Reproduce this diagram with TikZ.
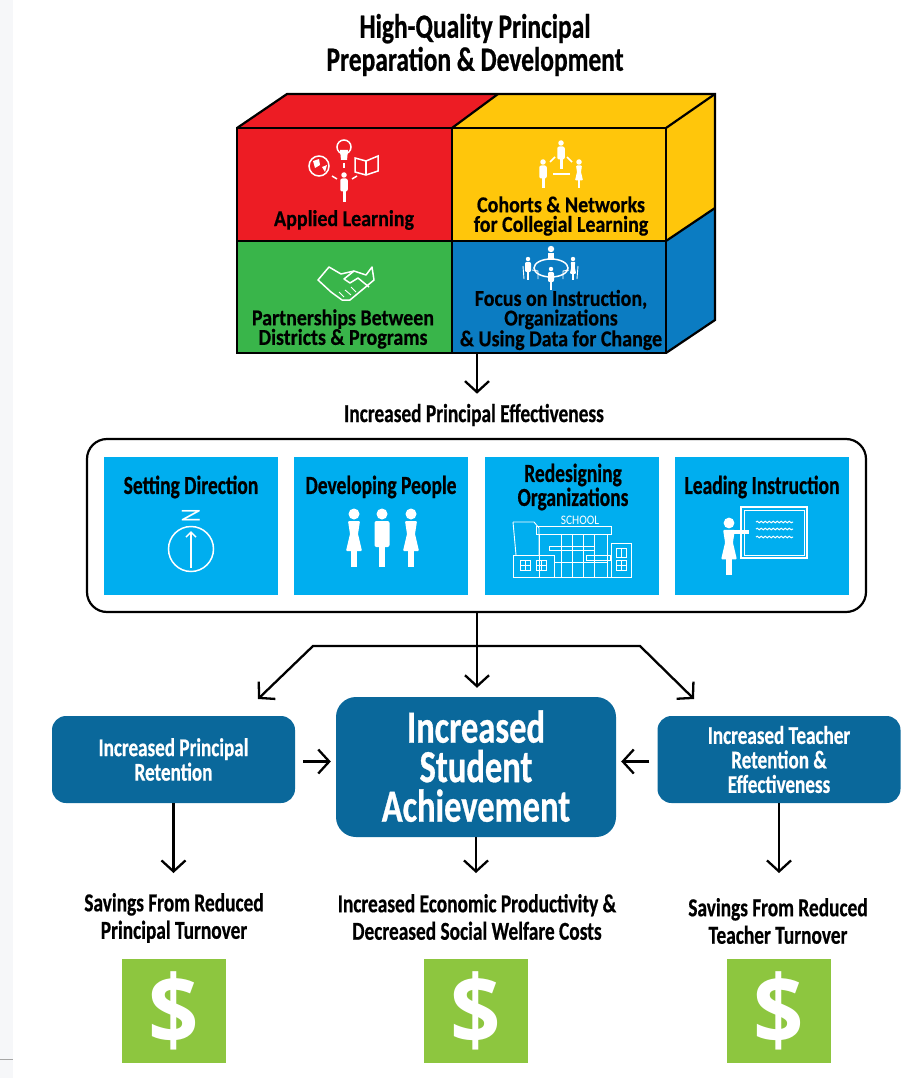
\documentclass[tikz,border=0pt]{standalone}
\usepackage{fontspec}
\usepackage{xcolor}
\usepackage{tikz}
\usetikzlibrary{arrows.meta,positioning,calc,decorations.pathmorphing}
\setmainfont[FakeStretch=0.88,BoldFeatures={FakeBold=0.5}]{Carlito}
\newfontfamily\narrowfont[FakeStretch=0.75,BoldFeatures={FakeBold=0.6}]{Carlito}
\newfontfamily\dollarfont[FakeStretch=0.92]{Open Sans}
\definecolor{cubered}{RGB}{237,28,36}
\definecolor{cubeyellow}{RGB}{255,198,11}
\definecolor{cubegreen}{RGB}{57,181,74}
\definecolor{cubeblue}{RGB}{11,124,194}
\definecolor{tileblue}{RGB}{0,174,239}
\definecolor{boxblue}{RGB}{10,104,155}
\definecolor{moneygreen}{RGB}{141,198,63}
\definecolor{edgegray}{RGB}{246,247,249}
\tikzset{
    flow/.style={line width=2.3pt, -{Straight Barb[length=11pt,width=24pt,line width=2.3pt]}},
    edge/.style={line width=2.2pt, black, line join=miter},
    cubelabel/.style={font=\bfseries\fontsize{22.7}{19.6}\selectfont, align=center, text=black, inner sep=0pt},
    headlabel/.style={font=\narrowfont\bfseries\fontsize{25.8}{27.5}\selectfont, align=center, text=black, inner sep=0pt},
    tilelabel/.style={font=\narrowfont\bfseries\fontsize{26}{24}\selectfont, align=center, text=black, inner sep=0pt},
    tile/.style={fill=tileblue, draw=none, minimum width=174pt, minimum height=138pt, inner sep=0pt},
    outcome/.style={fill=boxblue, rounded corners=14pt, text=white, font=\narrowfont\bfseries\fontsize{25.5}{24.5}\selectfont, align=center, minimum width=243pt, minimum height=87pt, inner sep=0pt},
    money/.style={fill=moneygreen, minimum width=104pt, minimum height=104pt, inner sep=0pt, text=white, font=\dollarfont\bfseries\fontsize{96}{96}\selectfont},
    icon/.style={white, line width=1.5pt},
    thinicon/.style={white, line width=0.9pt},
    pics/man/.style={code={
        \fill[white] (0,0) circle (5.5);
        \fill[white, rounded corners=2pt] (-7.5,7) rectangle (7.5,33);
        \fill[white] (-3,32) rectangle (3,53);
    }},
    pics/woman/.style={code={
        \fill[white] (0,0) circle (5.5);
        \fill[white, rounded corners=1pt] (-6,7) -- (6,7) -- (4,20) -- (8,37) -- (-8,37) -- (-4,20) -- cycle;
        \fill[white] (-2.6,36) rectangle (2.6,53);
    }},
}
\begin{document}
\begin{tikzpicture}[x=1pt,y=-1pt]
    \useasboundingbox (0,0) rectangle (915,1078);
    % strip at the left edge
    \fill[edgegray] (0,0) rectangle (13,1078);
    \draw[gray!70, line width=0.6pt] (0,1059) -- (13,1059);

    % title
    \node[font=\narrowfont\bfseries\fontsize{34}{33}\selectfont, align=center, inner sep=0pt] (title) at (475,45)
        {High-Quality Principal\\Preparation \& Development};

    % cube faces
    \fill[cubered] (237,128) -- (287,94) -- (498,94) -- (452,128) -- cycle;
    \fill[cubeyellow] (452,128) -- (498,94) -- (715,94) -- (666,128) -- cycle;
    \fill[cubeyellow] (666,128) -- (715,94) -- (715,208) -- (666,241) -- cycle;
    \fill[cubeblue] (666,241) -- (715,208) -- (715,320) -- (666,353) -- cycle;
    \fill[cubered] (237,128) rectangle (452,241);
    \fill[cubeyellow] (452,128) rectangle (666,241);
    \fill[cubegreen] (237,241) rectangle (452,353);
    \fill[cubeblue] (452,241) rectangle (666,353);
    \draw[edge] (237,128) rectangle (666,353);
    \draw[edge] (237,241) -- (666,241);
    \draw[edge] (452,128) -- (452,353);
    \draw[edge] (237,128) -- (287,94) -- (715,94) -- (715,320) -- (666,353);
    \draw[edge] (666,128) -- (715,94);
    \draw[edge] (452,128) -- (498,94);
    \draw[edge] (666,241) -- (715,208);

    % cube labels
    \node[cubelabel] (applied) at (344,220) {Applied Learning};
    \node[cubelabel] (cohorts) at (561,216) {Cohorts \& Networks\\for Collegial Learning};
    \node[cubelabel] (partners) at (343,329) {Partnerships Between\\Districts \& Programs};
    \node[cubelabel] (focus) at (561,320) {Focus on Instruction,\\Organizations\\\& Using Data for Change};

    % applied learning icon
    \draw[icon] (344,147) circle (7);
    \fill[white] (340,150) -- (348,150) -- (347,160) -- (341,160) -- cycle;
    \draw[icon] (344,163) -- (344,168);
    \draw[icon] (319,166) circle (10);
    \fill[white] (313,161) -- (319,159) -- (320,165) -- (315,168) -- cycle;
    \fill[white] (322,167) -- (327,165) -- (325,172) -- cycle;
    \draw[icon] (355,158) -- (366,161) -- (378,156) -- (378,171) -- (366,175) -- (355,172) -- cycle;
    \draw[icon] (366,161) -- (366,175);
    \draw[icon] (332,176) -- (337,179);
    \draw[icon] (352,179) -- (357,176);
    \pic[scale=0.5] at (344,175) {man};

    % cohorts icon
    \pic[scale=0.5] at (561,143) {man};
    \pic[scale=0.5] at (543,162) {man};
    \pic[scale=0.5] at (579,162) {woman};
    \draw[icon] (550,162) -- (555,157);
    \draw[icon] (567,157) -- (572,162);
    \draw[icon] (553,174) -- (570,174);

    % handshake icon
    \draw[icon, line join=round] (318,280) -- (329,267) -- (341,274) -- (354,271) -- (366,275) -- (372,267) -- (374,280)
        -- (362,290) -- (350,300) -- (342,300) -- (331,292) -- cycle;
    \draw[icon, line join=round] (354,271) -- (344,279) -- (350,283) -- (358,278) -- (369,287);
    \draw[thinicon] (339,292) -- (344,297);
    \draw[thinicon] (345,290) -- (351,295);
    \draw[thinicon] (351,287) -- (356,292);

    % meeting icon
    \draw[icon] (551,268) ellipse (17 and 9);
    \fill[white] (551,249) circle (3.2);
    \fill[white] (548,253) rectangle (554,259);
    \pic[scale=0.4] at (551,269) {man};
    \pic[scale=0.4] at (528,259) {man};
    \pic[scale=0.4] at (573,259) {woman};
    \draw[thinicon] (523,266) -- (524,279);
    \draw[thinicon] (532,270) -- (538,271) -- (538,279);
    \draw[thinicon] (578,266) -- (577,279);
    \draw[thinicon] (569,270) -- (563,271) -- (563,279);

    % arrow out of the cube
    \coordinate (cubeout) at (477,353);
    \node[headlabel] (effect) at (474,415) {Increased Principal Effectiveness};
    \draw[flow] (cubeout) -- ($(cubeout |- effect.north)+(0,-10)$);

    % panel with four tiles
    \node[draw, line width=2.2pt, rounded corners=20pt, minimum width=779pt, minimum height=173pt, inner sep=0pt] (panel) at (476.5,525.5) {};
    \node[tile] (direction) at (191,526) {};
    \node[tile] (people) at (381,526) {};
    \node[tile] (redesign) at (572,526) {};
    \node[tile] (instruct) at (762,526) {};
    \node[tilelabel] (directionlabel) at (191,487) {Setting Direction};
    \node[tilelabel] (peoplelabel) at (381,487) {Developing People};
    \node[tilelabel] (redesignlabel) at (573,487) {Redesigning\\Organizations};
    \node[tilelabel] (instructlabel) at (762,487) {Leading Instruction};

    % compass
    \draw[icon] (191,549) circle (22.5);
    \draw[icon, -{Straight Barb[length=5pt,width=10pt]}] (191,568) -- (191,531);
    \node[text=white, rotate=90, font=\narrowfont\fontsize{28}{28}\selectfont, inner sep=0pt] (north) at (191,516) {N};

    % three people
    \pic at (354,514) {woman};
    \pic at (382,514) {man};
    \pic at (411,514) {woman};

    % school
    \draw[thinicon] (513,522) -- (534,522) -- (539,528) -- (539,555);
    \draw[thinicon] (513,522) -- (516,555);
    \draw[thinicon] (536,526) rectangle (611,534);
    \draw[thinicon] (539,534) -- (539,577);
    \draw[thinicon] (607,534) -- (607,577);
    \draw[thinicon] (513,555) rectangle (554,577);
    \draw[thinicon] (611,543) rectangle (631,577);
    \draw[thinicon] (513,577) -- (631,577);
    \draw[thinicon] (549,546) -- (594,546) -- (594,550) -- (549,550) -- cycle;
    \draw[thinicon] (586,555) rectangle (610,560);
    \foreach \x in {561,572,583,594} {
        \draw[thinicon] (\x,534) -- (\x,577);
    }
    \draw[thinicon] (554,562) -- (607,562);
    \foreach \x in {525,541,621} {
        \draw[thinicon] (\x-5,560) rectangle (\x+5,570);
        \draw[thinicon] (\x,560) -- (\x,570);
        \draw[thinicon] (\x-5,565) -- (\x+5,565);
    }
    \draw[thinicon] (616,548) rectangle (626,557);
    \draw[thinicon] (621,548) -- (621,557);
    \node[text=white, font=\fontsize{13}{13}\selectfont, inner sep=0pt] (schoolname) at (580,520) {SCHOOL};

    % teacher and board
    \draw[icon] (741,507) rectangle (807,558);
    \draw[thinicon] (744,510) rectangle (804,555);
    \foreach \y in {522,529,537} {
        \draw[white, line width=1pt, decorate, decoration={snake,amplitude=0.8pt,segment length=4pt}] (756,\y) -- (793,\y);
    }
    \pic[scale=0.98] at (729,523) {woman};
    \fill[white] (729,530) rectangle (749,534);

    % outcome boxes
    \node[fill=boxblue, rounded corners=20pt, minimum width=280pt, minimum height=140pt, inner sep=0pt, text=white, align=center,
        font=\narrowfont\bfseries\fontsize{46}{39.5}\selectfont] (achieve) at (476,767) {\raisebox{2pt}{Increased}\\\raisebox{2pt}{Student}\\\raisebox{2pt}{Achievement}};
    \node[outcome] (retention) at (173.5,759.5) {Increased Principal\\Retention};
    \node[outcome] (teachers) at (779,759.5) {Increased Teacher\\Retention \&\\Effectiveness};

    % arrows out of the panel
    \coordinate (branch) at (477,646);
    \coordinate (leftknee) at (313,646);
    \coordinate (rightknee) at (640,646);
    \coordinate (leftend) at (258,699);
    \coordinate (rightend) at (694,699);
    \draw[flow] (panel.south -| branch) -- ($(achieve.north -| branch)+(0,-9)$);
    \draw[flow, line join=miter] (branch) -- (leftknee) -- (leftend);
    \draw[flow, line join=miter] (branch) -- (rightknee) -- (rightend);
    \draw[flow] ($(retention.east)+(8,2)$) -- ($(achieve.west |- retention.east)+(-5,2)$);
    \draw[flow] ($(teachers.west)+(-8,2)$) -- ($(achieve.east |- teachers.west)+(5,2)$);

    % bottom row
    \node[headlabel] (savingleft) at (174,918) {Savings From Reduced\\Principal Turnover};
    \node[headlabel] (savingmid) at (477,917) {Increased Economic Productivity \&\\Decreased Social Welfare Costs};
    \node[headlabel] (savingright) at (778,921) {Savings From Reduced\\Teacher Turnover};
    \draw[flow] (retention.south) -- (retention.south |- 0,873);
    \draw[flow] (achieve.south) -- (achieve.south |- 0,873);
    \draw[flow] (teachers.south) -- (teachers.south |- 0,873);
    \node[money] (moneyleft) at (174,1011) {\$};
    \node[money] (moneymid) at (476,1011) {\$};
    \node[money] (moneyright) at (779,1011) {\$};
\end{tikzpicture}
\end{document}
